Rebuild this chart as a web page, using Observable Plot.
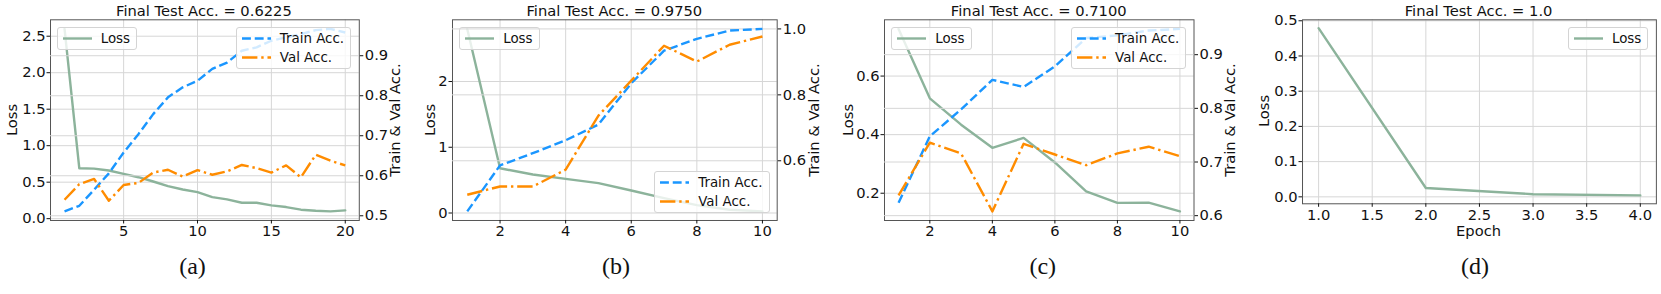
<!DOCTYPE html>
<html>
<head>
<meta charset="utf-8">
<script src="https://cdn.jsdelivr.net/npm/d3@7"></script>
<script src="https://cdn.jsdelivr.net/npm/@observablehq/plot@0.6"></script>
<style>
  html, body { margin: 0; padding: 0; background: #fff; }
  #fig { position: relative; width: 1661px; height: 294px; background: #fff; overflow: hidden; }
  .lg { position: absolute; background: rgba(255,255,255,0.8); border: 1px solid #d4d4d4; border-radius: 3px;
        padding: 1px 6px 1px 5px; font: 13.4px/19px 'DejaVu Sans'; color: #111; }
  .lg .row { display: flex; align-items: center; height: 19px; white-space: nowrap; }
  .lg svg { margin-right: 9px; display: block; }
  .t { position: absolute; white-space: nowrap; color: #111; line-height: 1; }
</style>
</head>
<body>
<div id="fig"></div>
<script>
// ---------- data ----------
const epochsA = [1, 2, 3, 4, 5, 6, 7, 8, 9, 10, 11, 12, 13, 14, 15, 16, 17, 18, 19, 20];
const lossA  = [2.60, 0.69, 0.686, 0.66, 0.614, 0.568, 0.509, 0.445, 0.40, 0.364, 0.295, 0.264, 0.218, 0.218, 0.182, 0.159, 0.123, 0.109, 0.10, 0.114];
const trainA = [0.511, 0.525, 0.565, 0.606, 0.658, 0.704, 0.754, 0.796, 0.821, 0.8375, 0.867, 0.883, 0.9125, 0.921, 0.9375, 0.946, 0.954, 0.964, 0.967, 0.958];
const valA   = [0.540, 0.579, 0.592, 0.5375, 0.577, 0.582, 0.608, 0.615, 0.598, 0.614, 0.6025, 0.611, 0.627, 0.619, 0.608, 0.626, 0.596, 0.6525, 0.6375, 0.626];

const epochsB = [1, 2, 3, 4, 5, 6, 7, 8, 9, 10];
const lossB  = [2.80, 0.68, 0.586, 0.52, 0.455, 0.343, 0.227, 0.12, 0.05, 0.025];
const trainB = [0.4465, 0.586, 0.623, 0.662, 0.71, 0.835, 0.934, 0.97, 0.995, 1.0];
const valB   = [0.497, 0.522, 0.522, 0.573, 0.737, 0.843, 0.949, 0.901, 0.952, 0.977];

const epochsC = [1, 2, 3, 4, 5, 6, 7, 8, 9, 10];
const lossC  = [0.761, 0.524, 0.434, 0.355, 0.389, 0.305, 0.206, 0.167, 0.168, 0.138];
const trainC = [0.624, 0.748, 0.798, 0.853, 0.84, 0.878, 0.931, 0.936, 0.945, 0.948];
const valC   = [0.638, 0.736, 0.716, 0.608, 0.734, 0.714, 0.694, 0.716, 0.7285, 0.711];

const epochsD = [1, 2, 3, 4];
const lossD  = [0.479, 0.025, 0.0075, 0.004];

// tick labels
const xTicksA = [5, 10, 15, 20];
const xTicksBC = [2, 4, 6, 8, 10];
const xTicksD = [1.0, 1.5, 2.0, 2.5, 3.0, 3.5, 4.0];
const lossTicksA = [0.0, 0.5, 1.0, 1.5, 2.0, 2.5];
const lossTicksB = [0, 1, 2];
const lossTicksC = [0.2, 0.4, 0.6];
const lossTicksD = [0.0, 0.1, 0.2, 0.3, 0.4, 0.5];
const accTicksA = [0.5, 0.6, 0.7, 0.8, 0.9];
const accTicksB = [0.6, 0.8, 1.0];
const accTicksC = [0.6, 0.7, 0.8, 0.9];

const titles = ["Final Test Acc. = 0.6225", "Final Test Acc. = 0.9750", "Final Test Acc. = 0.7100", "Final Test Acc. = 1.0"];
const tags = ["(a)", "(b)", "(c)", "(d)"];

// ---------- style ----------
const GREEN = "#8cb39b", BLUE = "#1a96ff", ORANGE = "#ff8c00";
const LW = 2.4;
const DASH = "8.9,3.84";
const DASHDOT = "15.4,3.84,2.4,3.84";
const GRID = { stroke: "#d6d6d6", strokeOpacity: 1, strokeWidth: 1 };
const FS = 14.7;
const f1 = d3.format(".1f"), f0 = d3.format("d");

const fig = document.getElementById("fig");

function mplDomain(arr) {
  const lo = d3.min(arr), hi = d3.max(arr), m = (hi - lo) * 0.05;
  return [lo - m, hi + m];
}

function text(s, cx, cy, size, family, rotate) {
  const d = document.createElement("div");
  d.className = "t";
  d.textContent = s;
  d.style.left = cx + "px";
  d.style.top = cy + "px";
  d.style.font = `${size}px/1 ${family}`;
  d.style.transform = `translate(-50%,-50%) rotate(${rotate || 0}deg)`;
  fig.appendChild(d);
}

function legend(items, pos) {
  const box = document.createElement("div");
  box.className = "lg";
  for (const k in pos) box.style[k] = pos[k] + "px";
  for (const it of items) {
    const row = document.createElement("div");
    row.className = "row";
    row.innerHTML = `<svg width="29" height="19"><line x1="0" x2="29" y1="9.5" y2="9.5" stroke="${it.color}" stroke-width="${LW}" ${it.dash ? `stroke-dasharray="${it.dash}"` : ""}/></svg><span>${it.label}</span>`;
    box.appendChild(row);
  }
  fig.appendChild(box);
}

const PAD = 60;
const baseStyle = { fontFamily: "DejaVu Sans", fontSize: FS + "px", color: "#111", background: "transparent", overflow: "visible" };

function addSvg(svg, left) {
  svg.style.position = "absolute";
  svg.style.left = left + "px";
  svg.style.top = "0px";
  fig.appendChild(svg);
}

function panel(p) {
  const { L, R, T, B } = p;
  const W = R - L + 2 * PAD, H = B + 40;
  const xDom = mplDomain(p.epochs);
  const common = { width: W, height: H, marginLeft: PAD, marginRight: PAD, marginTop: T, marginBottom: H - B, style: baseStyle };

  addSvg(Plot.plot({
    ...common,
    x: { domain: xDom },
    y: { domain: mplDomain(p.loss) },
    marks: [
      Plot.gridX(p.xTicks, GRID),
      Plot.gridY(p.lossTicks, GRID),
      Plot.lineY(p.loss, { x: p.epochs, stroke: GREEN, strokeWidth: LW }),
      Plot.frame({ stroke: "#555", strokeWidth: 1 }),
      Plot.axisX(p.xTicks, { tickSize: 3.5, tickPadding: 2, tickFormat: p.xFmt, label: null }),
      Plot.axisY(p.lossTicks, { anchor: "left", tickSize: 3.5, tickPadding: 1.5, tickFormat: p.lossFmt, label: null })
    ]
  }), L - PAD);

  legend([{ label: "Loss", color: GREEN }], p.lossLeg);

  if (p.train) {
    addSvg(Plot.plot({
      ...common,
      x: { domain: xDom, axis: null },
      y: { domain: mplDomain(p.train.concat(p.val)) },
      marks: [
        Plot.gridY(p.accTicks, GRID),
        Plot.lineY(p.train, { x: p.epochs, stroke: BLUE, strokeWidth: LW, strokeDasharray: DASH, strokeLinecap: "butt" }),
        Plot.lineY(p.val, { x: p.epochs, stroke: ORANGE, strokeWidth: LW, strokeDasharray: DASHDOT, strokeLinecap: "butt" }),
        Plot.axisY(p.accTicks, { anchor: "right", tickSize: 3.5, tickPadding: 2, tickFormat: f1, label: null })
      ]
    }), L - PAD);
    legend([{ label: "Train Acc.", color: BLUE, dash: DASH }, { label: "Val Acc.", color: ORANGE, dash: DASHDOT }], p.accLeg);
    text("Train & Val Acc.", p.accLabelX, (T + B) / 2, FS, "'DejaVu Sans'", -90);
  }

  const cx = (L + R) / 2;
  text(p.title, cx, 11, FS, "'DejaVu Sans'", 0);
  text("Loss", p.lossLabelX, (T + B) / 2, FS, "'DejaVu Sans'", -90);
  if (p.xlabel) text(p.xlabel, cx, 231, FS, "'DejaVu Sans'", 0);
  text(p.tag, p.tagX, 265.5, 24, "'Liberation Serif', 'Times New Roman', serif", 0);
}

const FIGW = 1661, FIGH = 294, BAX = 7.2;

const A = { L: 49.5, R: 358.3, T: 19.3, B: 220 };
panel({ ...A, epochs: epochsA, loss: lossA, train: trainA, val: valA,
  xTicks: xTicksA, xFmt: f0, lossTicks: lossTicksA, lossFmt: f1, accTicks: accTicksA,
  title: titles[0], tag: tags[0], tagX: 192.5, lossLabelX: 11.7, accLabelX: 395,
  lossLeg: { left: A.L + BAX, top: A.T + BAX },
  accLeg: { right: FIGW - (A.R - BAX), top: A.T + BAX } });

const Bp = { L: 452, R: 776.7, T: 19.3, B: 220 };
panel({ ...Bp, epochs: epochsB, loss: lossB, train: trainB, val: valB,
  xTicks: xTicksBC, xFmt: f0, lossTicks: lossTicksB, lossFmt: f0, accTicks: accTicksB,
  title: titles[1], tag: tags[1], tagX: 616, lossLabelX: 430, accLabelX: 813.8,
  lossLeg: { left: Bp.L + BAX, top: Bp.T + BAX },
  accLeg: { right: FIGW - (Bp.R - BAX), bottom: FIGH - (Bp.B - BAX) } });

const C = { L: 884, R: 1193.5, T: 19.3, B: 220 };
panel({ ...C, epochs: epochsC, loss: lossC, train: trainC, val: valC,
  xTicks: xTicksBC, xFmt: f0, lossTicks: lossTicksC, lossFmt: f1, accTicks: accTicksC,
  title: titles[2], tag: tags[2], tagX: 1042.8, lossLabelX: 847.7, accLabelX: 1229.7,
  lossLeg: { left: C.L + BAX, top: C.T + BAX },
  accLeg: { right: FIGW - (C.R - BAX), top: C.T + BAX } });

const D = { L: 1301.6, R: 1655.5, T: 19.3, B: 203.3 };
panel({ ...D, epochs: epochsD, loss: lossD,
  xTicks: xTicksD, xFmt: f1, lossTicks: lossTicksD, lossFmt: f1,
  title: titles[3], tag: tags[3], tagX: 1475, lossLabelX: 1263.8, xlabel: "Epoch",
  lossLeg: { right: FIGW - (D.R - BAX), top: D.T + BAX } });
</script>
</body>
</html>
